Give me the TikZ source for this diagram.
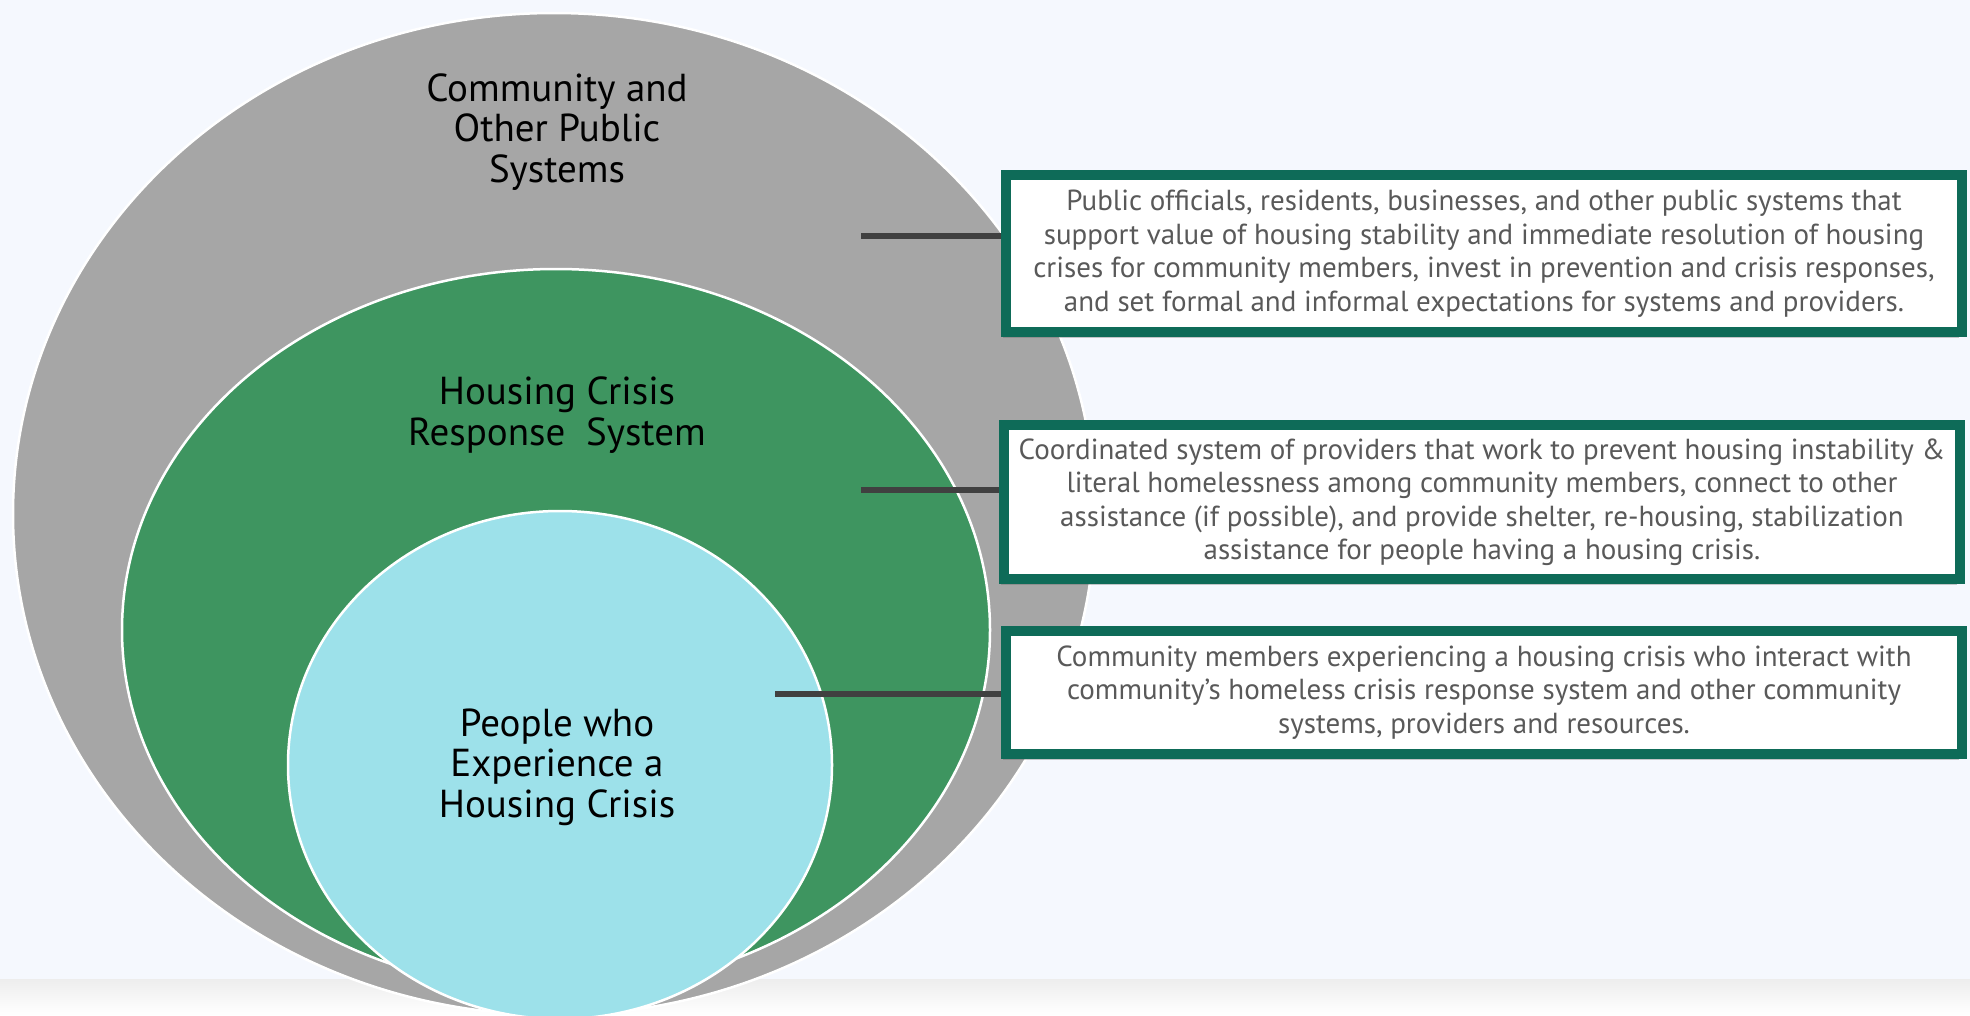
\documentclass[tikz,border=0pt]{standalone}
\usepackage{fontspec}
\setmainfont{PT Sans}
\usetikzlibrary{shapes.geometric,shadows}
\definecolor{bgc}{HTML}{F5F8FE}
\definecolor{grayell}{HTML}{A6A6A6}
\definecolor{greenell}{HTML}{3E9560}
\definecolor{cyanell}{HTML}{9DE1EA}
\definecolor{boxborder}{HTML}{0E6B58}
\definecolor{linec}{HTML}{404040}
\definecolor{boxtext}{HTML}{595959}
\tikzset{
  ring/.style={ellipse, draw=white, line width=2.5pt, inner sep=0pt},
  ringlabel/.style={align=center, text=black, font=\fontsize{39}{40.5}\selectfont},
  descbox/.style={draw=boxborder, fill=white, line width=10pt, minimum width=956pt,
    align=center, text=boxtext, inner sep=0pt,
    font=\fontsize{29}{33.5}\selectfont,
    drop shadow={shadow xshift=-3pt, shadow yshift=-6pt, opacity=0.35, fill=black!60}},
  conn/.style={draw=linec, line width=6pt}
}
\begin{document}
\begin{tikzpicture}[x=1pt,y=-1pt]
\useasboundingbox (0,0) rectangle (1970,1015);
\clip (0,0) rectangle (1970,1015);
\fill[bgc] (0,0) rectangle (1970,979);
\shade[top color=black!7, bottom color=white] (0,979) rectangle (1970,1015);
% ellipses
\node[ring, fill=grayell, minimum width=1082pt, minimum height=1002pt] (outer) at (554,514) {};
\node[ring, fill=greenell, minimum width=868pt, minimum height=722pt] (middle) at (556,630) {};
\node[ring, fill=cyanell, minimum width=544pt, minimum height=508pt] (inner) at (560,765) {};
% labels
\node[ringlabel] (l1) at (557,132) {Community and\\Other Public\\Systems};
\node[ringlabel] (l2) at (557,415) {Housing Crisis\\Response\ \ System};
\node[ringlabel] (l3) at (557,767) {People who\\Experience a\\Housing Crisis};
% boxes
\node[descbox, minimum height=157pt] (b1) at (1484,253.5) {Public officials, residents, businesses, and other public systems that\\support value of housing stability and immediate resolution of housing\\crises for community members, invest in prevention and crisis responses,\\and set formal and informal expectations for systems and providers.};
\node[descbox, minimum height=154pt] (b2) at (1482,502) {Coordinated system of providers that work to prevent housing instability \&\\literal homelessness among community members, connect to other\\assistance (if possible), and provide shelter, re-housing, stabilization\\assistance for people having a housing crisis.};
\node[descbox, minimum height=123pt] (b3) at (1484,692.5) {Community members experiencing a housing crisis who interact with\\community’s homeless crisis response system and other community\\systems, providers and resources.};
% connectors
\coordinate (c1) at (861,236);
\coordinate (c2) at (861,490);
\coordinate (c3) at (775,694);
\draw[conn] (c1) -- (c1 -| b1.west);
\draw[conn] (c2) -- (c2 -| b2.west);
\draw[conn] (c3) -- (c3 -| b3.west);
\end{tikzpicture}
\end{document}
